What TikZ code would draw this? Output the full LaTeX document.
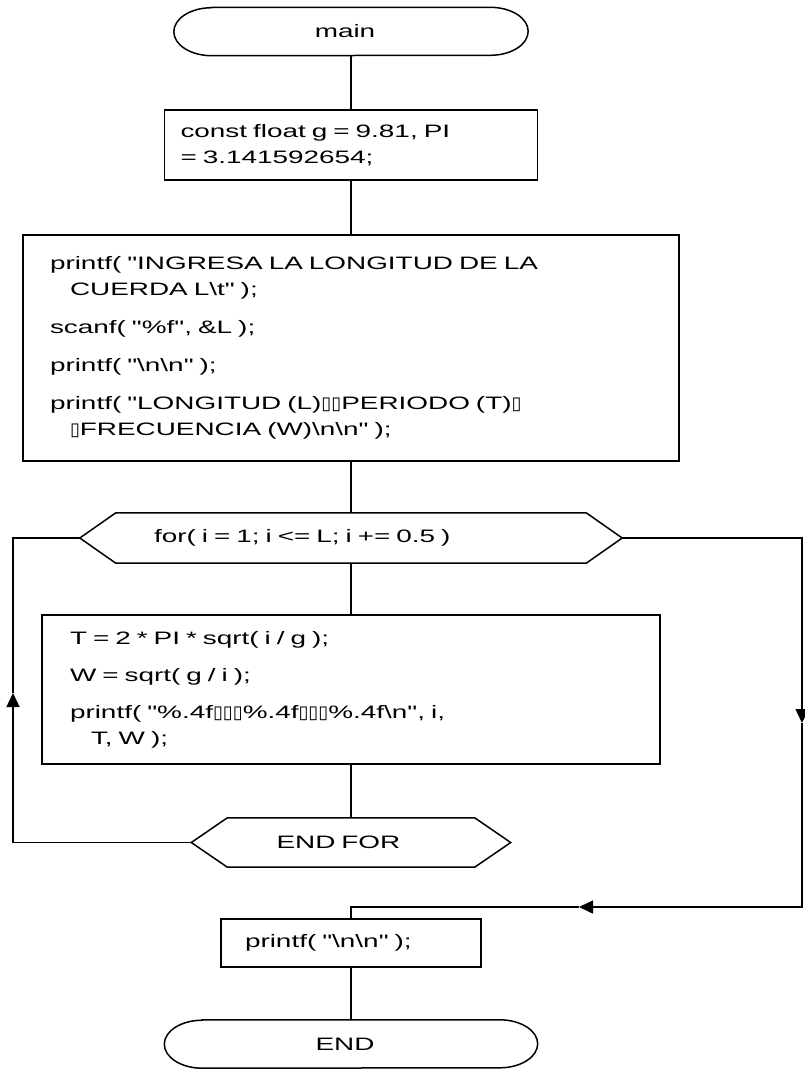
\documentclass[tikz,border=0pt]{standalone}
\usepackage{fontspec}
\setmainfont{Liberation Sans}[FakeStretch=1.55, Ligatures=TeXOff]
\newfontfamily\glyphbox{DejaVu Sans}
\usetikzlibrary{arrows.meta}

% placeholder glyph printed for the tab characters
\newcommand\tabmark{{\glyphbox ▯}}
\newcommand\bs{\textbackslash}

% outline of a start/end terminal around a named node
\newcommand\drawterminal[1]{%
  \draw[flow] ([xshift=38pt]#1.north west) -- ([xshift=-38pt]#1.north east)
    arc[start angle=90,end angle=-90,x radius=38pt,y radius=24pt]
    -- ([xshift=38pt]#1.south west)
    arc[start angle=270,end angle=90,x radius=38pt,y radius=24pt] -- cycle;}
% outline of a loop hexagon around a named node
\newcommand\drawhex[1]{%
  \draw[flow] (#1.west) -- ([xshift=36pt]#1.north west)
    -- ([xshift=-36pt]#1.north east) -- (#1.east)
    -- ([xshift=-36pt]#1.south east) -- ([xshift=36pt]#1.south west) -- cycle;}

\begin{document}
\begin{tikzpicture}[x=1pt,y=-1pt,
  every node/.style={font=\fontsize{18pt}{26pt}\selectfont, inner ysep=0pt},
  flow/.style={line width=1.5pt, draw=black},
  tip/.style={-{Triangle[length=14pt,width=13pt]}},
  term/.style={minimum width=#1, minimum height=48pt, inner xsep=0pt},
  stmt/.style={draw, line width=1.5pt, align=left},
  loophex/.style={minimum height=50pt, align=left}
]
\useasboundingbox (0,0) rectangle (805,1069);

\node[term=354pt] (main) at (351,31.5) {main\hspace*{12pt}};
\drawterminal{main}

\node[stmt, inner xsep=16pt, text width=341pt, minimum height=70pt]
  (const) at (351,145)
  {const float g = 9.81, PI\\= 3.141592654;};

\node[stmt, inner xsep=27pt, text width=602pt, minimum height=226pt]
  (input) at (351,348)
  {printf( "INGRESA LA LONGITUD DE LA\\
   \hspace*{20pt}CUERDA L\bs t" );\\[12pt]
   scanf( "\%f", \&L );\\[12pt]
   printf( "\bs n\bs n" );\\[12pt]
   printf( "LONGITUD (L)\tabmark\tabmark PERIODO (T)\tabmark\\
   \hspace*{20pt}\tabmark FRECUENCIA (W)\bs n\bs n" );};

\node[loophex, inner xsep=74pt, text width=394pt] (forh) at (351,538)
  {for( i = 1; i <= L; i += 0.5 )};
\drawhex{forh}

\node[stmt, inner xsep=28pt, text width=562pt, minimum height=149pt]
  (body) at (351,689.5)
  {T = 2 * PI * sqrt( i / g );\\[11pt]
   W = sqrt( g / i );\\[11pt]
   printf( "\%.4f\tabmark\tabmark\tabmark\%.4f\tabmark\tabmark\tabmark\%.4f\bs n", i,\\
   \hspace*{21pt}T, W );};

\node[loophex, inner xsep=85pt, text width=149pt, minimum height=49pt]
  (endfor) at (351,842.5) {END FOR};
\drawhex{endfor}

\node[stmt, inner xsep=24pt, text width=212pt, minimum height=48pt]
  (out) at (351,943) {printf( "\bs n\bs n" );};

\node[term=373pt] (fin) at (351,1044) {END\hspace*{12pt}};
\drawterminal{fin}

% main sequence
\draw[flow] (main) -- (const);
\draw[flow] (const) -- (input);
\draw[flow] (input) -- (forh);
\draw[flow] (forh) -- (body);
\draw[flow] (body) -- (endfor);
\draw[flow] (out) -- (fin);

% loop back from END FOR to the for header
\coordinate (upL) at (13,693);
\draw[flow, tip] (endfor.west) -| (upL);
\draw[flow] (upL) |- (forh.west);

% exit of the loop
\coordinate (downR) at (802,723);
\coordinate (leftB) at (579,907);
\draw[flow, tip] (forh.east) -| (downR);
\draw[flow, tip] (downR) |- (leftB);
\draw[flow] (leftB) -| (out.north);
\end{tikzpicture}
\end{document}
